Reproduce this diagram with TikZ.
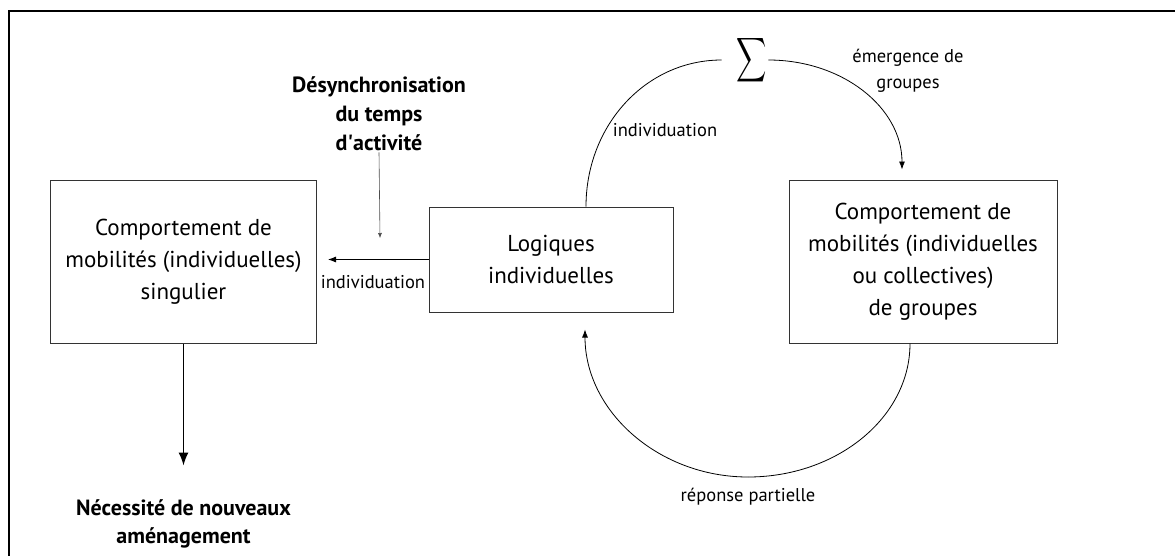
\documentclass[tikz,border=0pt]{standalone}
\usepackage{fontspec}
\setmainfont{PT Sans}
\usetikzlibrary{arrows.meta}

\tikzset{
  box/.style = {draw = black!80, line width = 1pt, align = center, inner sep = 0pt,
    font = \fontsize{23}{32}\selectfont},
  lbl/.style = {align = center, inner sep = 1pt, font = \fontsize{18.5}{26}\selectfont},
  boldlbl/.style = {align = center, inner sep = 1pt, font = \fontsize{22}{29}\selectfont\bfseries},
  flow/.style = {line width = 0.8pt, -{Latex[length = 8pt, width = 6pt]}}
}

\begin{document}
\begin{tikzpicture}[x = 1pt, y = -1pt]
\useasboundingbox (0,0) rectangle (1175,555);
\draw[line width = 2pt] (9,565) -- (9,11) -- (1185,11);

% boxes
\node[box, minimum width = 266pt, minimum height = 163pt] (sing) at (183.5,261.5)
  {Comportement de\\mobilités (individuelles)\\singulier};
\node[box, minimum width = 244pt, minimum height = 105pt] (logi) at (551,259.5)
  {Logiques\\individuelles};
\node[box, minimum width = 268pt, minimum height = 163pt] (grp) at (923,261.5)
  {Comportement de\\mobilités (individuelles\\ou collectives)\\de groupes};
\node[inner sep = 1pt] (sum) at (752,60) {\scalebox{2.1}[3.1]{$\displaystyle\sum$}};

% labels
\node[boldlbl] (desync) at (379,114) {Désynchronisation\\du temps\\d\textquotesingle activité};
\node[boldlbl, font = \fontsize{22}{28}\selectfont\bfseries] (need) at (183.5,524)
  {Nécessité de nouveaux\\aménagement};
\node[lbl] (indiv1) at (373,282) {individuation};
\node[lbl] (indiv2) at (665,130) {individuation};
\node[lbl] (emerg) at (908,71) {émergence de\\groupes};
\node[lbl] (rep) at (748,497) {réponse partielle};
\coordinate (loop) at (748,477);
\coordinate (synch) at (380,238);

% connectors
\draw[flow] (logi.west) -- ([xshift = 11pt]logi.west -| sing.east);
\draw[line width = 0.6pt, black!70, -{Latex[length = 5pt, width = 4pt]}] (desync.south) -- (synch);
\draw[line width = 1.6pt, -{Latex[length = 13pt, width = 10pt]}] (sing.south) -- ([yshift = 33pt]need.north);
\draw[line width = 0.8pt] ([xshift = 35pt]logi.north) .. controls +(0,-81) and +(-76,0) .. ([xshift = -14pt]sum.west);
\draw[flow] (sum.east) .. controls +(74,0) and +(0,-62) .. ([xshift = -21pt, yshift = 10pt]grp.north);
\draw[line width = 0.8pt] ([xshift = -13pt]grp.south) .. controls +(0,74) and +(89,0) .. (loop);
\draw[flow] (loop) .. controls +(-89,0) and +(0,82) .. ([xshift = 34pt, yshift = -17pt]logi.south);
\end{tikzpicture}
\end{document}
